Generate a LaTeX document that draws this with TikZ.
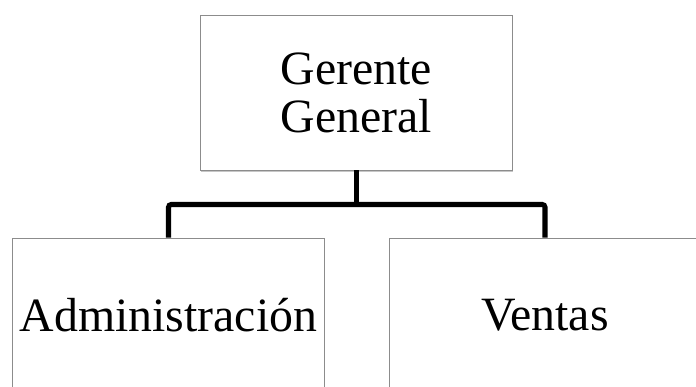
\documentclass[tikz,border=0pt]{standalone}
\usepackage{fontspec}
\setmainfont{Liberation Serif}
\usetikzlibrary{positioning,calc,shadows}

\begin{document}
\begin{tikzpicture}[
    x=0.025cm, y=-0.025cm,
    box/.style={rectangle, draw=black!45, line width=0.6pt, fill=white, minimum width=7.8cm, minimum height=3.875cm, inner sep=0pt, align=center, font=\fontsize{34}{34}\selectfont},
    shbox/.style={box, drop shadow={opacity=0.45, shadow xshift=0.5pt, shadow yshift=-1.6pt}},
    conn/.style={line width=3.6pt, black, rounded corners=2pt}
]
    \useasboundingbox (0,0) rectangle (696,387);
    \clip (0,0) rectangle (696,387);
    \node[shbox] (gg) at (356.5,92.5) {Gerente\\General};
    \node[box] (adm) at (168.5,315.5) {Administración};
    \node[box] (ven) at (545,315.5) {Ventas};

    \coordinate (bus) at ([yshift=-24.2pt]gg.south);
    \draw[conn] (gg.south) -- (bus);
    \draw[conn] (adm.north) |- (bus) -| (ven.north);
\end{tikzpicture}
\end{document}
